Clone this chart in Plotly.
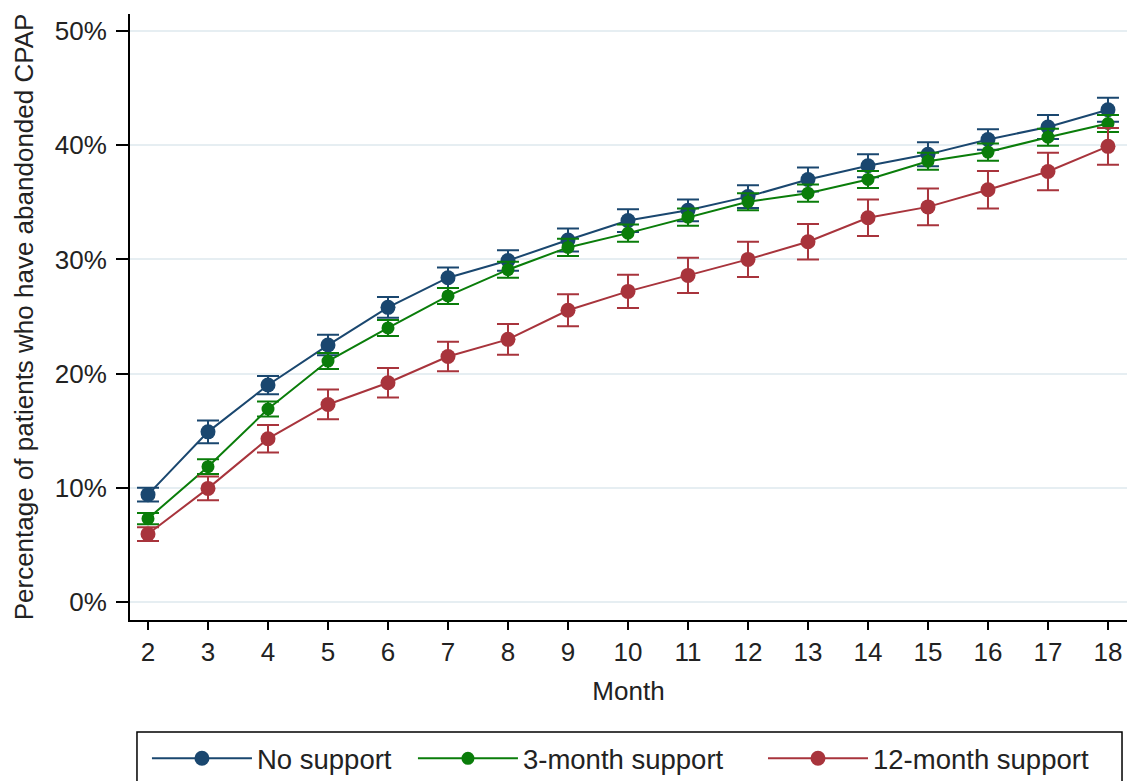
import plotly.graph_objects as go

months = list(range(2, 19))

no_support = [9.4, 14.9, 19.0, 22.5, 25.8, 28.4, 29.9, 31.7, 33.4, 34.3, 35.5, 37.0, 38.2, 39.2, 40.5, 41.6, 43.1]
no_support_err = [0.6, 1.0, 0.8, 0.9, 0.9, 0.9, 0.9, 1.0, 1.0, 0.95, 1.0, 1.05, 1.0, 1.05, 0.9, 1.05, 1.05]

three_month = [7.3, 11.85, 16.9, 21.1, 24.0, 26.8, 29.1, 31.05, 32.3, 33.7, 35.05, 35.8, 37.0, 38.6, 39.4, 40.7, 41.9]
three_month_err = [0.5, 0.65, 0.65, 0.7, 0.7, 0.7, 0.7, 0.75, 0.75, 0.75, 0.75, 0.75, 0.75, 0.75, 0.75, 0.75, 0.75]

twelve_month = [5.95, 9.95, 14.3, 17.3, 19.2, 21.5, 23.0, 25.55, 27.2, 28.6, 30.0, 31.55, 33.65, 34.6, 36.1, 37.7, 39.9]
twelve_month_err = [0.6, 1.05, 1.2, 1.3, 1.3, 1.3, 1.35, 1.4, 1.45, 1.55, 1.55, 1.55, 1.6, 1.6, 1.65, 1.65, 1.6]

series_names = ["No support", "3-month support", "12-month support"]
colors = ["#1a476f", "#0a7d0a", "#a8343c"]
marker_sizes = [15, 13, 15]

y_ticks = [0, 10, 20, 30, 40, 50]
y_tick_labels = ["0%", "10%", "20%", "30%", "40%", "50%"]

legend_ids = ["legend", "legend2", "legend3"]
legend_x = [0.017, 0.2838, 0.6349]

fig = go.Figure()
for name, vals, errs, col, ms, lg in zip(series_names,
                                         [no_support, three_month, twelve_month],
                                         [no_support_err, three_month_err, twelve_month_err],
                                         colors, marker_sizes, legend_ids):
    fig.add_trace(go.Scatter(
        x=months, y=vals, name=name, mode="lines+markers",
        line=dict(color=col, width=2),
        marker=dict(color=col, size=ms, symbol="circle"),
        error_y=dict(type="data", array=errs, visible=True, color=col,
                     thickness=2, width=11),
        legend=lg,
    ))

font_family = "Liberation Sans, Arial, sans-serif"


def legend_style(xpos):
    return dict(
        orientation="h", x=xpos, xanchor="left", y=-0.188, yanchor="top",
        borderwidth=0, bgcolor="rgba(0,0,0,0)",
        font=dict(size=27.5, color="#222222"),
        itemwidth=100, itemsizing="trace",
    )


fig.update_layout(
    width=1127, height=781,
    margin=dict(l=130, r=0, t=14, b=161, autoexpand=False),
    paper_bgcolor="white", plot_bgcolor="white",
    font=dict(family=font_family, size=26, color="#222222"),
    showlegend=True,
    legend=legend_style(legend_x[0]),
    legend2=legend_style(legend_x[1]),
    legend3=legend_style(legend_x[2]),
    shapes=[dict(
        type="rect", xref="paper", yref="paper",
        x0=0.007, x1=0.995, y0=-0.1848, y1=-0.29,
        line=dict(color="black", width=1.5), fillcolor="rgba(0,0,0,0)",
        layer="above",
    )],
    xaxis=dict(
        range=[1.7, 18.317], tickmode="array", tickvals=months,
        ticktext=[str(m) for m in months],
        showgrid=False, zeroline=False,
        showline=True, linecolor="black", linewidth=2,
        ticks="outside", ticklen=8, tickwidth=1.5, tickcolor="black",
        ticklabelstandoff=0,
        title=dict(text="Month", standoff=16, font=dict(size=26)),
    ),
    yaxis=dict(
        range=[-1.576, 51.49], tickmode="array", tickvals=y_ticks,
        ticktext=y_tick_labels,
        showgrid=True, gridcolor="#e6eef2", gridwidth=1.5,
        zeroline=False,
        showline=True, linecolor="black", linewidth=2,
        ticks="outside", ticklen=12, tickwidth=1.5, tickcolor="black",
        ticklabelstandoff=4,
        title=dict(text="Percentage of patients who have abandonded CPAP",
                   standoff=14, font=dict(size=26)),
    ),
)

fig.write_html("out.html")
